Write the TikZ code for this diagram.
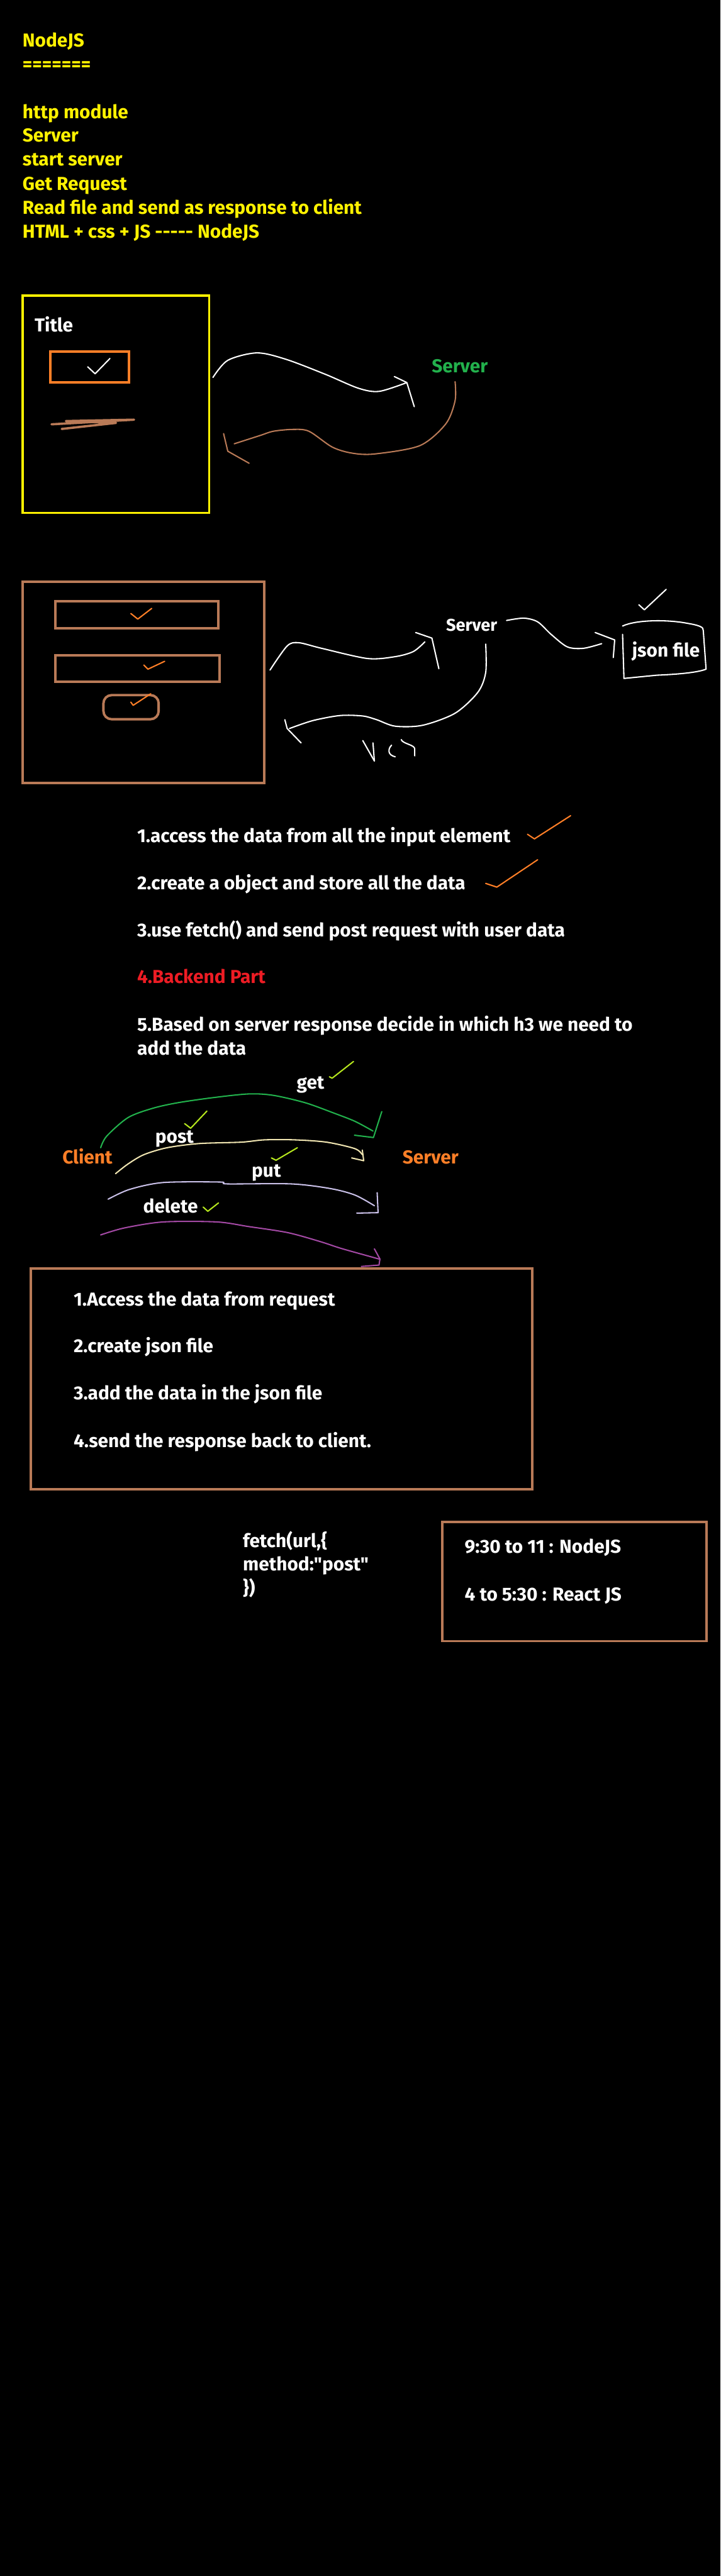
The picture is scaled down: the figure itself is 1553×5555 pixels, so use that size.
\documentclass[tikz,border=0pt]{standalone}
\usepackage{fontspec}
\setmainfont{Fira Sans}[Ligatures=TeXOff]
\usetikzlibrary{calc}

\definecolor{pyellow}{HTML}{FFF200}
\definecolor{porange}{HTML}{FF7F27}
\definecolor{pbrown}{HTML}{B97A57}
\definecolor{pgreen}{HTML}{22B14C}
\definecolor{pred}{HTML}{ED1C24}
\definecolor{plime}{HTML}{B5E61D}
\definecolor{pcream}{HTML}{EFE4B0}
\definecolor{plavender}{HTML}{C8BFE7}
\definecolor{ppurple}{HTML}{A349A4}

\tikzset{
  txt/.style={anchor=base west, inner sep=0pt, text=white,
    font=\bfseries\fontsize{11.5}{14}\selectfont},
  pen/.style={line width=0.8pt, line cap=round, line join=round},
  frame/.style={line width=1.5pt},
}

\begin{document}
\begin{tikzpicture}[x=0.01cm, y=-0.01cm]

    % === Canvas ===
    \fill[black] (0,0) rectangle (1553,5555);
    \useasboundingbox (0,0) rectangle (1553,5555);

    % === Heading and topics ===
    \node[txt, text=pyellow] (head) at (48,101) {NodeJS};
    \node[txt, text=pyellow] (headrule) at (48,152) {=======};
    \node[txt, text=pyellow] (topic1) at (48,255) {http module};
    \node[txt, text=pyellow] (topic2) at (48,306) {Server};
    \node[txt, text=pyellow] (topic3) at (48,358) {start server};
    \node[txt, text=pyellow] (topic4) at (48,410) {Get Request};
    \node[txt, text=pyellow] (topic5) at (48,462) {Read file and send as response to client};
    \node[txt, text=pyellow] (topic6) at (48,514) {HTML + css + JS ----- NodeJS};

    % === Page sketch 1 ===
    \draw[frame, pyellow] (49,637) rectangle (451,1106);
    \node[txt] (pagetitle) at (74,715) {Title};
    \draw[frame, porange] (109,758) rectangle (278,824);
    \draw[pen, white] (189,791) -- (205,806) -- (237,773);
    % scribbled text line
    \draw[pen, pbrown, line width=1.4pt] (111,915) -- (289,905) -- (142,908) -- (250,912) -- (133,925);

    % request to server
    \node[txt, text=pgreen] (server1) at (930,804) {Server};
    \draw[pen, white] plot[smooth] coordinates {(459,814) (491,777) (554,761) (617,775)
        (701,807) (772,837) (817,844) (877,825)};
    \draw[pen, white] (850,812) -- (877,825) -- (893,877);
    % response back
    \draw[pen, pbrown] plot[smooth] coordinates {(981,823) (981,864) (961,914) (905,961)
        (807,979) (758,977) (716,964) (666,930) (631,926) (589,930) (561,939) (505,957)};
    \draw[pen, pbrown] (482,935) -- (491,973) -- (537,999);

    % === Page sketch 2 ===
    \draw[frame, pbrown] (49,1254) rectangle (570,1689);
    \draw[frame, pbrown] (119,1296) rectangle (471,1355);
    \draw[frame, pbrown] (119,1413) rectangle (473,1470);
    \draw[frame, pbrown, rounded corners=5pt] (223,1499) rectangle (342,1551);
    \draw[pen, porange] (282,1323) -- (297,1335) -- (327,1312);
    \draw[pen, porange] (310,1434) -- (319,1443) -- (355,1426);
    \draw[pen, porange] (282,1514) -- (287,1521) -- (325,1496);

    \node[txt, font=\bfseries\fontsize{10.5}{13}\selectfont] (server2) at (961,1361) {Server};
    \node[txt] (jsonlbl) at (1362,1417) {json file};
    % json file outline
    \draw[pen, white] (1342,1350) .. controls (1372,1336) and (1440,1336) .. (1481,1344)
        .. controls (1505,1348) and (1518,1352) .. (1516,1360) -- (1522,1443)
        .. controls (1500,1452) and (1440,1455) .. (1416,1456) -- (1345,1463) -- (1342,1368);
    \draw[pen, white] (1377,1304) -- (1389,1315) -- (1436,1271);

    % form to server
    \draw[pen, white] plot[smooth] coordinates {(582,1445) (619,1393) (644,1386) (693,1398)
        (792,1420) (852,1416) (891,1405) (916,1384)};
    \draw[pen, white] (896,1364) -- (931,1376) -- (946,1442);
    % server to json file
    \draw[pen, white] plot[smooth] coordinates {(1092,1338) (1129,1333) (1159,1341) (1188,1368)
        (1223,1395) (1258,1398) (1297,1388)};
    \draw[pen, white] (1283,1364) -- (1325,1380) -- (1322,1418);
    % server back to form
    \draw[pen, white] plot[smooth] coordinates {(1047,1389) (1047,1450) (1030,1493) (981,1538)
        (911,1564) (852,1566) (812,1552) (782,1544) (733,1543) (674,1554) (624,1571)};
    \draw[pen, white] (614,1552) -- (619,1571) -- (649,1602);
    % doodle
    \draw[pen, white] (782,1597) -- (807,1641);
    \draw[pen, white] (804,1602) -- (807,1641);
    \draw[pen, white] (844,1607) .. controls (836,1615) and (835,1628) .. (852,1632);
    \draw[pen, white] (865,1595) .. controls (868,1604) and (894,1606) .. (894,1615) -- (894,1630);

    % === Frontend steps ===
    \node[txt] (step1) at (295,1817) {1.access the data from all the input element};
    \draw[pen, porange] (1137,1799) -- (1152,1809) -- (1230,1759);
    \node[txt] (step2) at (295,1919) {2.create a object and store all the data};
    \draw[pen, porange] (1047,1905) -- (1071,1913) -- (1159,1854);
    \node[txt] (step3) at (295,2020) {3.use fetch() and send post request with user data};
    \node[txt, text=pred] (step4) at (295,2121) {4.Backend Part};
    \node[txt] (step5) at (295,2224) {5.Based on server response decide in which h3 we need to};
    \node[txt] (step5b) at (295,2275) {add the data};

    % === HTTP methods ===
    \node[txt, text=porange] (client) at (134,2509) {Client};
    \node[txt, text=porange] (server3) at (867,2509) {Server};

    \node[txt] (getlbl) at (639,2348) {get};
    \draw[pen, plime] (710,2322) -- (716,2325) -- (762,2289);
    \draw[pen, pgreen] plot[smooth] coordinates {(217,2475) (230,2450) (276,2410) (329,2390)
        (383,2378) (459,2367) (536,2359) (589,2362) (658,2378) (719,2400) (765,2418) (804,2439)};
    \draw[pen, pgreen] (823,2397) -- (805,2453) -- (764,2448);

    \node[txt] (postlbl) at (334,2465) {post};
    \draw[pen, plime] (398,2423) -- (411,2433) -- (446,2396);
    \draw[pen, pcream] plot[smooth] coordinates {(249,2531) (276,2510) (310,2490) (360,2475)
        (429,2466) (520,2463) (570,2458) (635,2458) (704,2463) (765,2477) (781,2490)};
    \draw[pen, pcream] (781,2480) -- (784,2503) -- (758,2497);

    \node[txt] (putlbl) at (542,2538) {put};
    \draw[pen, plime] (585,2497) -- (595,2502) -- (641,2475);
    \draw[pen, plavender] plot[smooth] coordinates {(233,2586) (279,2565) (352,2550) (475,2549)
        (490,2553) (628,2553) (712,2563) (765,2577) (807,2600)};
    \draw[pen, plavender] (813,2572) -- (815,2615) -- (769,2616);

    \node[txt] (deletelbl) at (308,2616) {delete};
    \draw[pen, plime] (438,2603) -- (448,2612) -- (471,2594);
    \draw[pen, ppurple] plot[smooth] coordinates {(217,2663) (268,2648) (352,2635) (467,2635)
        (536,2645) (620,2658) (689,2677) (735,2692) (792,2708) (817,2715)};
    \draw[pen, ppurple] (807,2693) -- (819,2715) -- (817,2728) -- (779,2731);

    % === Backend steps ===
    \draw[frame, pbrown] (67,2736) rectangle (1147,3211);
    \node[txt] (back1) at (158,2816) {1.Access the data from request};
    \node[txt] (back2) at (158,2917) {2.create json file};
    \node[txt] (back3) at (158,3018) {3.add the data in the json file};
    \node[txt] (back4) at (158,3121) {4.send the response back to client.};

    % === fetch call and timetable ===
    \node[txt] (fetch1) at (523,3337) {fetch(url,\{};
    \node[txt] (fetch2) at (523,3387) {method:"post"};
    \node[txt] (fetch3) at (523,3438) {\})};

    \draw[frame, pbrown] (953,3282) rectangle (1523,3539);
    \node[txt] (slot1) at (1001,3349) {9:30 to 11 : NodeJS};
    \node[txt] (slot2) at (1001,3452) {4 to 5:30 : React JS};

\end{tikzpicture}
\end{document}
